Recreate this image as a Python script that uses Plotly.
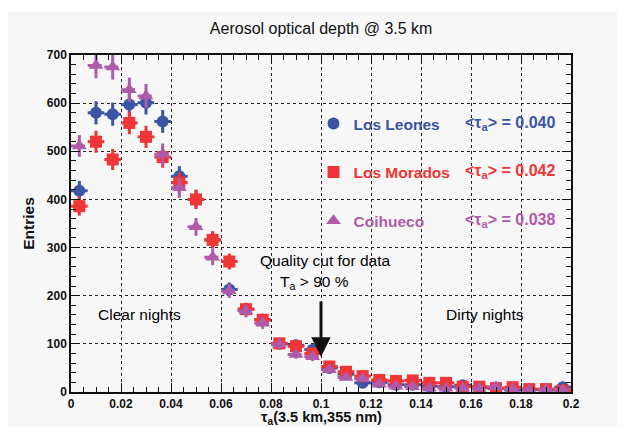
import numpy as np
import plotly.graph_objects as go

# 30 bins of tau_a between 0 and 0.2
n_bins = 30
tau_min, tau_max = 0.0, 0.2
bin_w = (tau_max - tau_min) / n_bins
tau_centers = tau_min + bin_w * (np.arange(n_bins) + 0.5)

los_leones = [418, 580, 577, 597, 601, 562, 448, 400, 316, 213,
              172, 150, 100, 97, 88, 50, 37, 19, 20, 15,
              15, 12, 11, 14, 9, 7, 4, 5, 4, 10]
los_morados = [386, 520, 483, 559, 530, 488, 435, 400, 316, 271,
               172, 150, 101, 95, 80, 53, 42, 33, 25, 23,
               24, 19, 19, 11, 11, 8, 10, 6, 6, 3]
coihueco = [511, 678, 675, 628, 615, 494, 424, 343, 280, 210,
            168, 143, 99, 78, 73, 46, 30, 28, 16, 12,
            11, 8, 8, 8, 8, 11, 6, 4, 5, 4]

site_names = ["Los Leones", "Los Morados", "Coihueco"]
mean_tau = ["0.040", "0.042", "0.038"]
colors = ["#3b55a6", "#ef3535", "#b05aaa"]
symbols = ["circle", "square", "triangle-up"]
dashed_xerr = [False, False, True]

x_tickvals = [0, 0.02, 0.04, 0.06, 0.08, 0.1, 0.12, 0.14, 0.16, 0.18, 0.2]
x_ticktext = ["0", "0.02", "0.04", "0.06", "0.08", "0.1", "0.12", "0.14", "0.16", "0.18", "0.2"]
y_tickvals = [0, 100, 200, 300, 400, 500, 600, 700]

FONT = "Liberation Sans"
BG = "#f7f7f7"

fig = go.Figure()
for i, counts in enumerate([los_leones, los_morados, coihueco]):
    counts = np.array(counts, dtype=float)
    if dashed_xerr[i]:
        # Coihueco has dashed horizontal bin-width bars
        xs, ys = [], []
        for c, v in zip(tau_centers, counts):
            xs += [c - bin_w / 2, c + bin_w / 2, None]
            ys += [v, v, None]
        fig.add_trace(go.Scatter(x=xs, y=ys, mode="lines", showlegend=False, hoverinfo="skip",
                                 line=dict(color=colors[i], width=3, dash="5px,4px")))
        err_x = None
    else:
        err_x = dict(type="constant", value=bin_w / 2, color=colors[i], thickness=3, width=0)
    fig.add_trace(go.Scatter(
        x=tau_centers, y=counts, mode="markers",
        name='<span style="color:%s">%s</span>' % (colors[i], site_names[i]),
        legendgroup=site_names[i],
        marker=dict(symbol=symbols[i], color=colors[i], size=13 if i == 2 else 12,
                    line=dict(width=0)),
        error_y=dict(type="data", array=np.sqrt(counts), color=colors[i],
                     thickness=3, width=0),
        error_x=err_x,
    ))

# mean tau labels next to legend entries
for i in range(3):
    fig.add_annotation(
        xref="paper", yref="paper", x=0.972, y=[0.797, 0.654, 0.510][i],
        xanchor="right", yanchor="middle", showarrow=False,
        text="&lt;τ<sub>a</sub>&gt; = %s" % mean_tau[i],
        font=dict(family=FONT, size=16, color=colors[i], weight="bold"))

txt_font = dict(family=FONT, size=15.5, color="#000000")
fig.add_annotation(x=0.0273, y=160, text="Clear nights", showarrow=False, font=txt_font)
fig.add_annotation(x=0.1657, y=160, text="Dirty nights", showarrow=False, font=txt_font)
fig.add_annotation(x=0.1017, y=274, text="Quality cut for data", showarrow=False, font=txt_font)
fig.add_annotation(x=0.0973, y=228, text="T<sub>a</sub> &gt; 90 %", showarrow=False, font=txt_font)
fig.add_annotation(x=0.1, y=73, ax=0.1, ay=191, axref="x", ayref="y", xref="x", yref="y",
                   text="", showarrow=True, arrowhead=2, arrowsize=1.3, arrowwidth=3,
                   arrowcolor="#111111")

# x axis title (placed by hand so the subscript stays inside the canvas)
fig.add_annotation(xref="paper", yref="paper", x=0.5, y=-0.106, xanchor="center", yanchor="bottom",
                   showarrow=False, text="τ<sub>a</sub>(3.5 km,355 nm)", borderpad=0,
                   font=dict(family=FONT, size=14.5, color="#111111", weight="bold"))

# grey canvas frame like the original
fig.add_shape(type="rect", xref="paper", yref="paper", x0=-0.126, x1=1.2, y0=-0.2, y1=1.128,
              fillcolor=BG, line=dict(width=0), layer="below")

axis_common = dict(
    showline=True, linecolor="#111111", linewidth=1.5, mirror="ticks",
    ticks="inside", ticklen=9, tickwidth=1, tickcolor="#111111",
    showgrid=True, gridcolor="#222222", griddash="dot", gridwidth=1,
    zeroline=False, automargin=False,
    tickfont=dict(family=FONT, size=12, color="#111111", weight="bold"),
)

fig.update_xaxes(range=[tau_min, tau_max], tickvals=x_tickvals, ticktext=x_ticktext,
                 minor=dict(dtick=0.005, ticks="inside", ticklen=5, tickcolor="#111111", showgrid=False),
                 **axis_common)
fig.update_yaxes(range=[0, 700], tickvals=y_tickvals,
                 minor=dict(dtick=20, ticks="inside", ticklen=5, tickcolor="#111111", showgrid=False),
                 title=dict(text="Entries", standoff=8,
                            font=dict(family=FONT, size=15.5, color="#111111", weight="bold")),
                 **axis_common)

fig.update_layout(
    width=625, height=427,
    margin=dict(l=63, r=62, t=47, b=43, autoexpand=False),
    paper_bgcolor="white", plot_bgcolor=BG,
    title=dict(text="Aerosol optical depth @ 3.5 km", x=0.501, xanchor="center",
               y=0.953, yanchor="middle", automargin=False,
               font=dict(family=FONT, size=16, color="#111111")),
    showlegend=True,
    legend=dict(x=0.485, y=0.846, xanchor="left", yanchor="top",
                bgcolor="rgba(0,0,0,0)", borderwidth=0, tracegroupgap=25.5,
                font=dict(family=FONT, size=15.5, weight="bold")),
)

fig.write_html("out.html")
